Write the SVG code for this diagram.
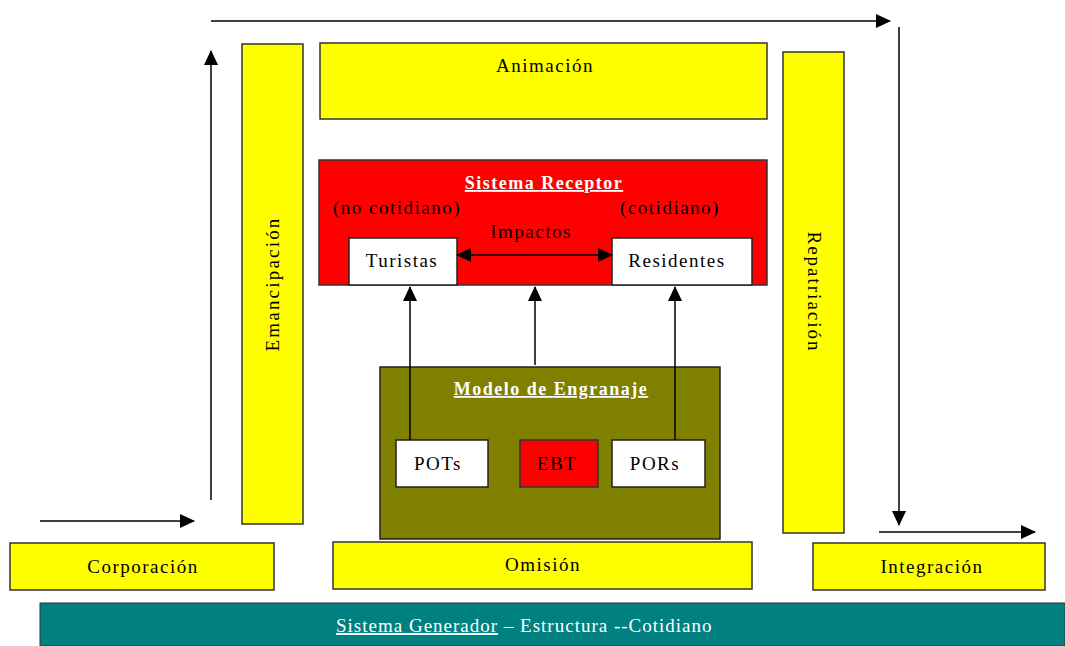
<svg xmlns="http://www.w3.org/2000/svg" width="1065" height="646" viewBox="0 0 1065 646">
<defs>
<marker id="ah" markerWidth="15" markerHeight="14" refX="14" refY="7" orient="auto" markerUnits="userSpaceOnUse">
<path d="M0,0 L15,7 L0,14 Z" fill="#000"/>
</marker>
<marker id="ahs" markerWidth="15" markerHeight="14" refX="1" refY="7" orient="auto" markerUnits="userSpaceOnUse">
<path d="M15,0 L0,7 L15,14 Z" fill="#000"/>
</marker>
<style>
.y{fill:#ffff00;stroke:#333;stroke-width:1.5}
.w{fill:#fff;stroke:#222;stroke-width:1.5}
.r{fill:#ff0000;stroke:#333;stroke-width:1.5}
.t{font-family:"Liberation Serif",serif;font-size:19px;letter-spacing:1.5px;fill:#000;text-anchor:middle}
.h{font-family:"Liberation Serif",serif;font-size:18px;letter-spacing:1.5px;font-weight:bold;fill:#fff;text-anchor:middle;text-decoration:underline}
.c{stroke:#000;stroke-width:1.5;fill:none}
</style>
</defs>
<rect width="1065" height="646" fill="#fff"/>
<g id="emancipacion"><rect class="y" x="242" y="44" width="61" height="480"/><text class="t" style="letter-spacing:2.2px" transform="translate(279,284) rotate(-90)">Emancipación</text></g>
<g id="animacion"><rect class="y" x="320" y="43" width="447" height="76"/><text class="t" x="545" y="72">Animación</text></g>
<g id="repatriacion"><rect class="y" x="783" y="52" width="61" height="481"/><text class="t" style="letter-spacing:2px" transform="translate(808,292) rotate(90)">Repatriación</text></g>
<g id="receptor"><rect class="r" x="319" y="160" width="448" height="125"/>
<text class="h" x="544" y="189">Sistema Receptor</text>
<text class="t" x="397" y="214">(no cotidiano)</text>
<text class="t" x="670" y="214">(cotidiano)</text>
<text class="t" x="531" y="238">Impactos</text></g>
<g id="turistas"><rect class="w" x="349" y="238" width="108" height="47"/><text class="t" x="402" y="267">Turistas</text></g>
<g id="residentes"><rect class="w" x="612" y="238" width="140" height="47"/><text class="t" x="677" y="267">Residentes</text></g>
<g id="engranaje"><rect x="380" y="367" width="340" height="172" fill="#808000" stroke="#222" stroke-width="1.5"/><text class="h" x="551" y="395">Modelo de Engranaje</text></g>
<g id="pots"><rect class="w" x="396" y="440" width="92" height="47"/><text class="t" x="438" y="470">POTs</text></g>
<g id="ebt"><rect class="r" x="520" y="440" width="78" height="47"/><text class="t" x="557" y="470">EBT</text></g>
<g id="pors"><rect class="w" x="612" y="440" width="93" height="47"/><text class="t" x="655" y="470">PORs</text></g>
<g id="corporacion"><rect class="y" x="10" y="543" width="264" height="47"/><text class="t" x="143" y="573">Corporación</text></g>
<g id="omision"><rect class="y" x="333" y="542" width="419" height="47"/><text class="t" x="543" y="571">Omisión</text></g>
<g id="integracion"><rect class="y" x="813" y="543" width="232" height="47"/><text class="t" x="932" y="573">Integración</text></g>
<g id="generador"><rect x="40" y="603" width="1025" height="43" fill="#008080" stroke="#333" stroke-width="1"/>
<text font-family="Liberation Serif, serif" font-size="19" letter-spacing="1" fill="#fff" x="336" y="632"><tspan text-decoration="underline">Sistema Generador</tspan> – Estructura --Cotidiano</text></g>
<g id="connectors">
<line class="c" x1="211" y1="21" x2="890" y2="21" marker-end="url(#ah)"/>
<line class="c" x1="899" y1="27" x2="899" y2="525" marker-end="url(#ah)"/>
<line class="c" x1="211" y1="500" x2="211" y2="51" marker-end="url(#ah)"/>
<line class="c" x1="40" y1="521" x2="194" y2="521" marker-end="url(#ah)"/>
<line class="c" x1="879" y1="532" x2="1035" y2="532" marker-end="url(#ah)"/>
<line class="c" x1="457" y1="255" x2="612" y2="255" marker-start="url(#ahs)" marker-end="url(#ah)"/>
<line class="c" x1="410" y1="440" x2="410" y2="287" marker-end="url(#ah)"/>
<line class="c" x1="535" y1="365" x2="535" y2="287" marker-end="url(#ah)"/>
<line class="c" x1="675" y1="440" x2="675" y2="287" marker-end="url(#ah)"/>
</g>
</svg>
